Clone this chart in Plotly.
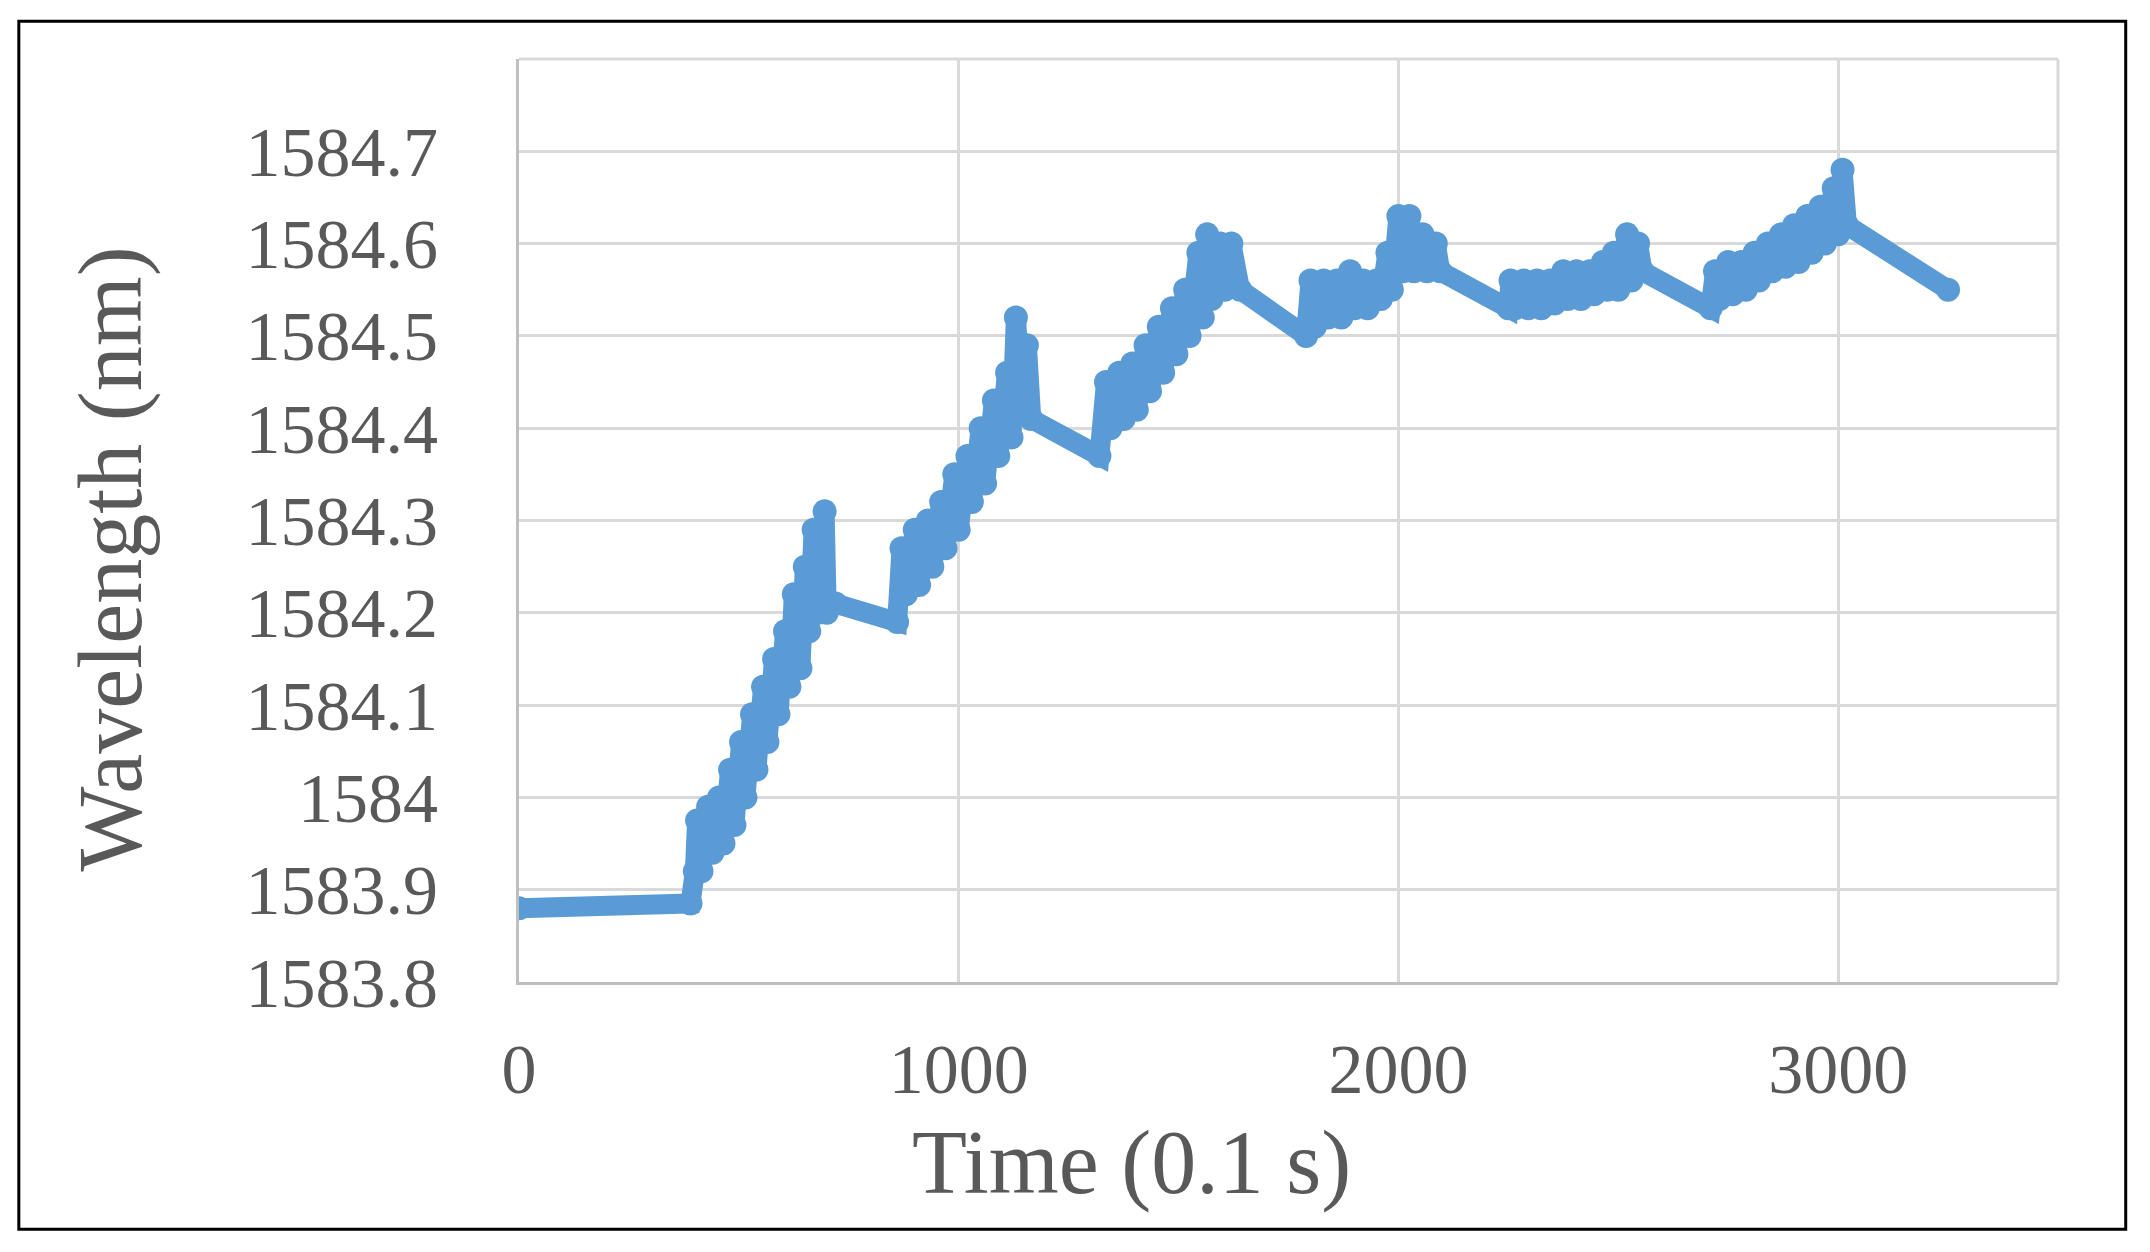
import plotly.graph_objects as go

time_x = [0, 390, 400, 405, 415, 430, 440, 455, 465, 480, 490, 505, 515, 530, 540, 555, 565, 580, 590, 605, 615, 625, 640, 650, 660, 670, 680, 695, 700, 720, 860,
          870, 880, 900, 910, 930, 940, 960, 970, 990, 1000, 1020, 1030, 1050, 1060, 1080, 1090, 1110, 1120, 1130, 1145, 1155, 1165, 1320,
          1335, 1345, 1365, 1375, 1395, 1405, 1425, 1435, 1455, 1465, 1485, 1495, 1515, 1525, 1545, 1555, 1565, 1575, 1595, 1605, 1620, 1640, 1790,
          1800, 1810, 1830, 1840, 1860, 1870, 1890, 1900, 1920, 1930, 1950, 1960, 1975, 1985, 2000, 2010, 2025, 2035, 2055, 2065, 2085, 2095, 2250,
          2255, 2265, 2285, 2295, 2315, 2325, 2345, 2355, 2375, 2385, 2405, 2415, 2435, 2445, 2465, 2475, 2490, 2500, 2520, 2530, 2545, 2555, 2710,
          2720, 2730, 2750, 2760, 2780, 2790, 2810, 2820, 2840, 2850, 2870, 2880, 2900, 2910, 2930, 2940, 2960, 2970, 2990, 3000, 3010, 3020, 3250]
wavelength = [1583.88, 1583.885, 1583.92, 1583.975, 1583.92, 1583.99, 1583.94, 1584.0, 1583.95, 1584.03, 1583.97, 1584.06, 1584.0, 1584.09, 1584.03, 1584.12, 1584.06, 1584.15, 1584.09, 1584.18, 1584.12, 1584.22, 1584.14, 1584.25, 1584.18, 1584.29, 1584.2, 1584.31, 1584.2, 1584.21, 1584.19,
              1584.27, 1584.22, 1584.29, 1584.23, 1584.30, 1584.25, 1584.32, 1584.27, 1584.35, 1584.29, 1584.37, 1584.32, 1584.40, 1584.34, 1584.43, 1584.37, 1584.46, 1584.39, 1584.52, 1584.42, 1584.49, 1584.41, 1584.37,
              1584.45, 1584.40, 1584.46, 1584.41, 1584.47, 1584.42, 1584.49, 1584.44, 1584.51, 1584.46, 1584.53, 1584.48, 1584.55, 1584.50, 1584.59, 1584.52, 1584.61, 1584.54, 1584.60, 1584.55, 1584.60, 1584.55, 1584.50,
              1584.56, 1584.51, 1584.56, 1584.52, 1584.56, 1584.52, 1584.57, 1584.53, 1584.56, 1584.53, 1584.56, 1584.54, 1584.59, 1584.55, 1584.63, 1584.57, 1584.63, 1584.57, 1584.61, 1584.57, 1584.60, 1584.57, 1584.53,
              1584.56, 1584.53, 1584.56, 1584.53, 1584.56, 1584.53, 1584.56, 1584.535, 1584.57, 1584.54, 1584.57, 1584.54, 1584.57, 1584.545, 1584.58, 1584.55, 1584.59, 1584.55, 1584.61, 1584.56, 1584.60, 1584.57, 1584.53,
              1584.57, 1584.54, 1584.58, 1584.545, 1584.58, 1584.55, 1584.59, 1584.56, 1584.60, 1584.57, 1584.61, 1584.575, 1584.62, 1584.58, 1584.63, 1584.59, 1584.64, 1584.60, 1584.66, 1584.61, 1584.68, 1584.62, 1584.55]

y_ticks = [1583.8, 1583.9, 1584.0, 1584.1, 1584.2, 1584.3, 1584.4, 1584.5, 1584.6, 1584.7]
y_labels = ["1583.8", "1583.9", "1584", "1584.1", "1584.2", "1584.3", "1584.4", "1584.5", "1584.6", "1584.7"]
x_ticks = [0, 1000, 2000, 3000]
x_title = "Time (0.1 s)"
y_title = "Wavelength (nm)"

color = "#5B9BD5"
fig = go.Figure(go.Scatter(x=time_x, y=wavelength, mode="lines+markers",
                           line=dict(color=color, width=20),
                           marker=dict(color=color, size=24)))

font = "Liberation Serif"
fig.update_layout(
    width=2150, height=1252, paper_bgcolor="white", plot_bgcolor="white",
    margin=dict(l=511, r=100, t=51, b=278), showlegend=False,
    font=dict(family=font, color="#595959"),
    xaxis=dict(range=[0, 3500], tickvals=x_ticks, showgrid=True, gridcolor="#D9D9D9", gridwidth=3,
               tickfont=dict(size=70, family=font, color="#595959"), ticks="outside", ticklen=24, tickcolor="rgba(0,0,0,0)",
               zeroline=False, showline=True, linecolor="#BFBFBF", linewidth=3),
    yaxis=dict(range=[1583.8, 1584.8], tickvals=y_ticks, ticktext=y_labels, showgrid=True, gridcolor="#D9D9D9", gridwidth=3,
               tickfont=dict(size=70, family=font, color="#595959"), ticks="outside", ticklen=64, tickcolor="rgba(0,0,0,0)",
               zeroline=False, showline=True, linecolor="#BFBFBF", linewidth=3),
)
fig.add_annotation(text=x_title, xref="paper", yref="paper", x=0.398, y=-0.196, showarrow=False,
                   font=dict(size=90, family=font, color="#595959"), xanchor="center", yanchor="middle")
fig.add_annotation(text=y_title, xref="paper", yref="paper", x=-0.265, y=0.458, showarrow=False, textangle=-90,
                   font=dict(size=90, family=font, color="#595959"), xanchor="center", yanchor="middle")
fig.add_shape(type="line", xref="paper", yref="paper", x0=0, x1=1, y0=1, y1=1, line=dict(color="#D9D9D9", width=3))
fig.add_shape(type="line", xref="paper", yref="paper", x0=1, x1=1, y0=0, y1=1, line=dict(color="#D9D9D9", width=3))
fig.add_shape(type="rect", xref="paper", yref="paper", x0=-0.325, x1=1.044, y0=-0.268, y1=1.041,
              line=dict(color="black", width=3))
fig.write_html("out.html")
